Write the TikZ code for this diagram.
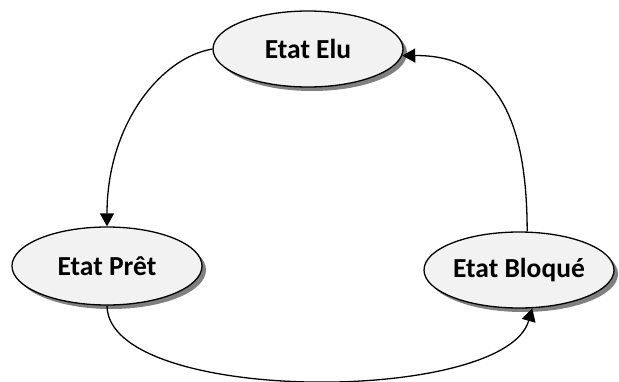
\documentclass[tikz,border=0pt]{standalone}
\usepackage{fontspec}
\setmainfont{Carlito}
\usetikzlibrary{shapes.geometric,arrows.meta,shadows}
\begin{document}
\begin{tikzpicture}[x=1pt,y=-1pt,
  state/.style={ellipse,draw=black,line width=1.3pt,fill=black!5,
    minimum width=190pt,minimum height=76pt,inner sep=0pt,
    font=\fontsize{27.5}{31}\selectfont\bfseries,
    drop shadow={shadow xshift=4pt,shadow yshift=-4pt,fill=black!50,opacity=1}},
  trans/.style={line width=1.3pt,-{Triangle[length=13pt,width=14pt]}}]
  \useasboundingbox (0,0) rectangle (619,381);
  \node[state] (elu) at (308,49) {Etat Elu};
  \node[state,minimum height=78pt] (pret) at (107,266) {Etat Prêt};
  \node[state] (bloque) at (519,270) {Etat Bloqué};
  % Elu -> Pret
  \draw[trans] (elu.west) .. controls (160,58) and (107,125) .. (pret.north);
  % Bloque -> Elu
  \draw[trans] (bloque.78) .. controls (527,125) and (500,55) .. (elu.-4);
  % Pret -> Bloque
  \draw[trans] (pret.south) .. controls (108,405) and (505,405) .. (bloque.-71);
\end{tikzpicture}
\end{document}
